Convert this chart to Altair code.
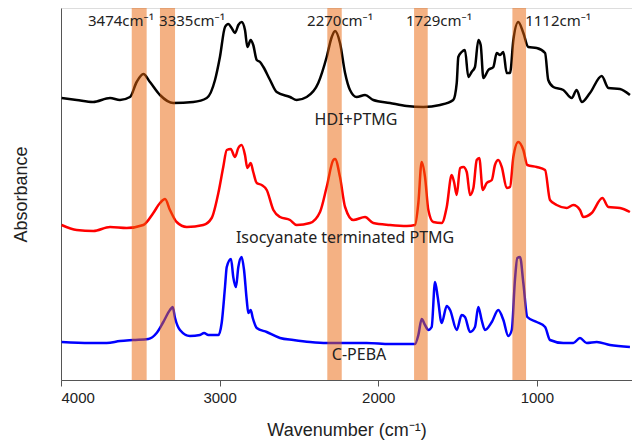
import altair as alt
import pandas as pd

# ---------------- data ----------------
series_names = ["HDI+PTMG", "Isocyanate terminated PTMG", "C-PEBA"]
series_colors = ["#000000", "#ff0000", "#0000ff"]

black_wn = [3996, 3901, 3798, 3691, 3628, 3565, 3523, 3481, 3439, 3376,
            3292, 3166, 3081, 3029, 2998, 2966, 2945, 2924, 2903, 2882,
            2861, 2840, 2825, 2804, 2788, 2766, 2745, 2724, 2682, 2640,
            2556, 2514, 2451, 2378, 2325, 2293, 2272, 2241, 2209, 2178,
            2136, 2083, 2031, 1926, 1820, 1716, 1610, 1527, 1505, 1495,
            1474, 1453, 1432, 1411, 1390, 1369, 1354, 1337, 1306, 1274,
            1253, 1232, 1211, 1190, 1169, 1148, 1117, 1085, 1054, 1001,
            948, 928, 896, 833, 780, 749, 717, 665, 591, 549,
            476, 413]
black_abs = [2.82, 2.80, 2.78, 2.82, 2.80, 2.83, 2.98, 3.06, 2.98, 2.85,
             2.77, 2.78, 2.82, 3.00, 3.23, 3.53, 3.56, 3.52, 3.47, 3.55,
             3.58, 3.50, 3.33, 3.40, 3.35, 3.20, 3.18, 3.13, 3.00, 2.88,
             2.83, 2.80, 2.83, 2.97, 3.23, 3.43, 3.49, 3.37, 3.07, 2.90,
             2.83, 2.85, 2.80, 2.77, 2.74, 2.73, 2.75, 2.80, 2.97, 3.23,
             3.28, 3.30, 3.03, 3.08, 3.13, 3.40, 3.35, 3.02, 3.10, 3.13,
             3.27, 3.25, 3.28, 3.07, 3.07, 3.40, 3.58, 3.47, 3.33, 3.32,
             3.27, 3.00, 2.93, 2.90, 2.82, 2.90, 2.78, 2.87, 3.04, 2.92,
             2.91, 2.85]

red_wn = [3996, 3901, 3796, 3691, 3586, 3481, 3418, 3376, 3344, 3313,
          3271, 3207, 3103, 3050, 3008, 2977, 2955, 2930, 2903, 2882,
          2861, 2840, 2825, 2804, 2788, 2766, 2735, 2703, 2661, 2619,
          2556, 2514, 2430, 2367, 2325, 2283, 2272, 2241, 2209, 2157,
          2083, 2031, 1926, 1820, 1768, 1747, 1726, 1705, 1684, 1653,
          1600, 1568, 1537, 1522, 1505, 1484, 1463, 1442, 1421, 1400,
          1379, 1363, 1341, 1316, 1284, 1264, 1243, 1221, 1190, 1169,
          1148, 1117, 1085, 1060, 1001, 948, 917, 875, 812, 770,
          728, 707, 654, 587, 549, 476, 413]
red_abs = [1.55, 1.50, 1.49, 1.53, 1.52, 1.55, 1.67, 1.77, 1.81, 1.70,
           1.58, 1.53, 1.55, 1.62, 1.87, 2.13, 2.30, 2.31, 2.23, 2.32,
           2.35, 2.25, 2.12, 2.17, 2.08, 1.97, 1.95, 1.90, 1.70, 1.63,
           1.60, 1.55, 1.57, 1.68, 1.93, 2.20, 2.21, 2.03, 1.73, 1.60,
           1.63, 1.57, 1.55, 1.54, 1.55, 1.77, 2.18, 2.03, 1.70, 1.58,
           1.57, 1.73, 2.05, 1.98, 1.85, 2.12, 2.13, 2.08, 1.85, 1.92,
           2.20, 2.22, 1.90, 1.97, 2.00, 2.15, 2.20, 2.13, 1.92, 1.93,
           2.23, 2.38, 2.30, 2.15, 2.13, 2.10, 1.80, 1.75, 1.72, 1.75,
           1.70, 1.63, 1.67, 1.82, 1.73, 1.72, 1.68]

blue_wn = [3996, 3817, 3712, 3628, 3544, 3450, 3397, 3355, 3313, 3296,
           3281, 3250, 3187, 3124, 3098, 3071, 3008, 2987, 2966, 2955,
           2928, 2914, 2897, 2882, 2861, 2846, 2829, 2819, 2804, 2791,
           2766, 2703, 2619, 2535, 2430, 2325, 2241, 2073, 1926, 1768,
           1747, 1726, 1705, 1684, 1663, 1642, 1625, 1600, 1568, 1547,
           1505, 1474, 1453, 1421, 1390, 1369, 1348, 1327, 1284, 1243,
           1211, 1180, 1158, 1138, 1123, 1106, 1085, 1060, 1001, 948,
           917, 833, 770, 728, 686, 622, 539, 413]
blue_abs = [0.38, 0.37, 0.37, 0.39, 0.40, 0.41, 0.47, 0.58, 0.70, 0.73,
            0.62, 0.50, 0.44, 0.45, 0.47, 0.45, 0.45, 0.57, 0.93, 1.13,
            1.21, 1.03, 0.93, 1.13, 1.23, 1.10, 0.80, 0.67, 0.70, 0.62,
            0.52, 0.48, 0.42, 0.40, 0.38, 0.37, 0.37, 0.37, 0.36, 0.36,
            0.45, 0.61, 0.55, 0.50, 0.53, 0.98, 0.83, 0.57, 0.74, 0.70,
            0.50, 0.65, 0.63, 0.48, 0.53, 0.73, 0.60, 0.50, 0.58, 0.70,
            0.60, 0.44, 0.50, 1.00, 1.22, 1.23, 0.97, 0.63, 0.58, 0.53,
            0.40, 0.37, 0.37, 0.42, 0.37, 0.38, 0.35, 0.33]

band_start = [3554, 3376, 2321, 1774, 1154]
band_end = [3460, 3281, 2230, 1688, 1068]

peak_labels = ["3474cm\u207b\u00b9", "3335cm\u207b\u00b9", "2270cm\u207b\u00b9",
               "1729cm\u207b\u00b9", "1112cm\u207b\u00b9"]
peak_label_x = [3622, 3174, 2241, 1617, 866]
peak_label_y = [3.59, 3.59, 3.59, 3.59, 3.59]

series_label_x = [2140, 2209, 2121]
series_label_y = [2.60, 1.42, 0.25]

x_ticks = [4000, 3000, 2000, 1000]

# ---------------- build tables ----------------
frames = []
for name, wn, ab in zip(series_names, [black_wn, red_wn, blue_wn],
                        [black_abs, red_abs, blue_abs]):
    d = pd.DataFrame({"wn": wn, "abs": ab})
    d["series"] = name
    frames.append(d)
spectra = pd.concat(frames, ignore_index=True)

bands = pd.DataFrame({"start": band_start, "end": band_end})
peaks = pd.DataFrame({"wn": peak_label_x, "abs": peak_label_y, "label": peak_labels})
names = pd.DataFrame({"wn": series_label_x, "abs": series_label_y, "label": series_names})

W, H = 571, 372
x_scale = alt.Scale(domain=[400, 4000], reverse=True, nice=False, zero=False)
y_scale = alt.Scale(domain=[0, 3.72], nice=False, zero=False)

x_axis = alt.Axis(values=x_ticks, format="d", title="Wavenumber (cm\u207b\u00b9)", grid=False,
                  labelFont="Liberation Sans", labelFontSize=15, labelColor="#222",
                  labelPadding=4, tickSize=6, tickColor="#555", domainColor="#555",
                  titleFont="Liberation Sans", titleFontSize=18, titleFontWeight="normal",
                  titleColor="#222", titlePadding=16)
y_axis = alt.Axis(title="Absorbance", labels=False, ticks=False, grid=False,
                  domainColor="#555", titleFont="Liberation Sans", titleFontSize=18,
                  titleFontWeight="normal", titleColor="#222", titlePadding=31)

lines = alt.Chart(spectra).mark_line(strokeWidth=2.5, strokeJoin="round",
                                     interpolate="monotone").encode(
    x=alt.X("wn:Q", scale=x_scale, axis=x_axis),
    y=alt.Y("abs:Q", scale=y_scale, axis=y_axis),
    color=alt.Color("series:N", scale=alt.Scale(domain=series_names, range=series_colors),
                    legend=None),
    detail="series:N",
)

band_layer = alt.Chart(bands).mark_rect(color="#E96307", opacity=0.5).encode(
    x=alt.X("start:Q", scale=x_scale),
    x2="end:Q",
)

peak_text = alt.Chart(peaks).mark_text(font="Noto Sans", fontSize=15, color="#222",
                                       align="center", baseline="middle").encode(
    x=alt.X("wn:Q", scale=x_scale), y=alt.Y("abs:Q", scale=y_scale), text="label:N")

name_text = alt.Chart(names).mark_text(font="Noto Sans", fontSize=16, color="#222",
                                       align="center", baseline="middle").encode(
    x=alt.X("wn:Q", scale=x_scale), y=alt.Y("abs:Q", scale=y_scale), text="label:N")

chart = alt.layer(lines, band_layer, peak_text, name_text).properties(
    width=W, height=H,
    autosize=alt.AutoSizeParams(type="none"),
    padding={"left": 53, "top": 0, "right": 0, "bottom": 64},
).configure_view(stroke="#666", strokeWidth=1.2).configure(background="white")

chart.save("out.html", embed_options={"renderer": "svg", "actions": False})
